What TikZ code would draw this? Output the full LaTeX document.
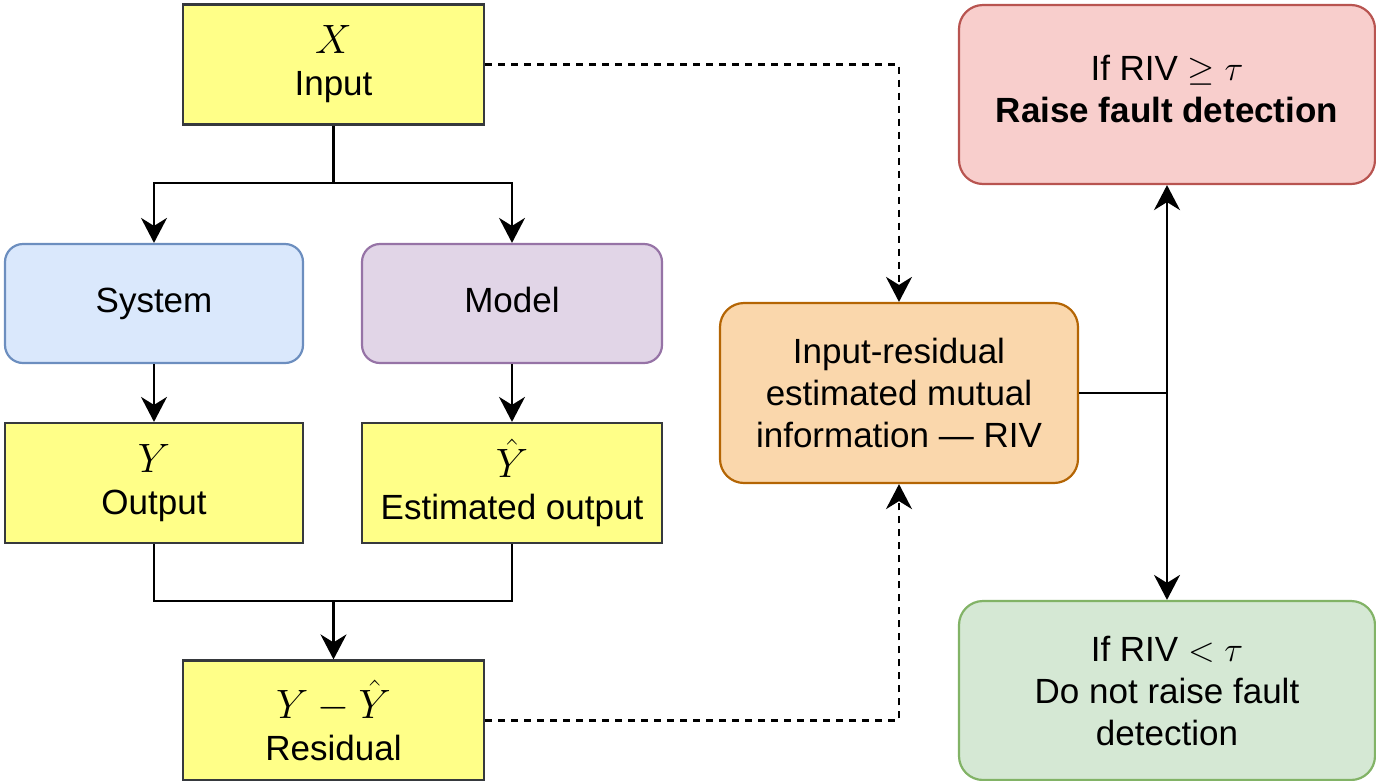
\RequirePackage{fix-cm}
\documentclass[tikz,border=0pt]{standalone}
\usepackage{fontspec}
\setmainfont{Liberation Sans}
\usetikzlibrary{arrows.meta}

\definecolor{yfill}{HTML}{FFFF88}
\definecolor{ydraw}{HTML}{36393D}
\definecolor{bfill}{HTML}{DAE8FC}
\definecolor{bdraw}{HTML}{6C8EBF}
\definecolor{pfill}{HTML}{E1D5E7}
\definecolor{pdraw}{HTML}{9673A6}
\definecolor{ofill}{HTML}{FAD7AC}
\definecolor{odraw}{HTML}{B46504}
\definecolor{rfill}{HTML}{F8CECC}
\definecolor{rdraw}{HTML}{B85450}
\definecolor{gfill}{HTML}{D5E8D4}
\definecolor{gdraw}{HTML}{82B366}

% symbols set a little larger than the labels
\newcommand{\bigmath}[1]{{\fontsize{41}{42}\selectfont$#1$}}

\tikzset{
  box/.style={line width=2.2pt, align=center, inner sep=0pt,
    font=\fontsize{35}{42}\selectfont},
  ybox/.style={box, fill=yfill, draw=ydraw, minimum width=301pt, minimum height=120pt},
  rbox/.style={box, rounded corners=18pt},
  oneline/.style={text height=25pt, text depth=8pt},
  wire/.style={line width=2.4pt, black},
  arrow/.style={wire, -{Stealth[length=25pt,width=26pt,inset=8pt]}},
  dasharrow/.style={arrow, dash pattern=on 7pt off 6pt},
}

\begin{document}
\begin{tikzpicture}[x=1pt,y=-1pt]
\useasboundingbox (0,0) rectangle (1376,780);
\clip (0,0) rectangle (1376,780);

% signal chain
\node[ybox] (inp) at (333.5,64.5) {\bigmath{X}\\Input};
\node[rbox, oneline, fill=bfill, draw=bdraw, minimum width=298pt, minimum height=119pt] (sys) at (154,303.5) {System};
\node[rbox, oneline, fill=pfill, draw=pdraw, minimum width=300pt, minimum height=119pt] (mod) at (512,303.5) {Model};
\node[ybox, minimum width=298pt] (out) at (154,483) {\bigmath{Y}\\Output};
\node[ybox, minimum width=300pt] (est) at (512,483) {\bigmath{\hat{Y}}\\Estimated output};
\node[ybox] (res) at (333.5,720.5) {\bigmath{Y-\hat{Y}}\\Residual};

% decision part
\node[rbox, fill=ofill, draw=odraw, minimum width=358pt, minimum height=180pt, rounded corners=24pt] (riv) at (899,393)
  {Input-residual\\estimated mutual\\information --- RIV};
\node[rbox, fill=rfill, draw=rdraw, minimum width=416pt, minimum height=179pt, rounded corners=24pt] (raise) at (1167,94.5)
  {If RIV $\geq \tau$\\\textbf{Raise fault detection}\rule[-12pt]{0pt}{1pt}};
\node[rbox, fill=gfill, draw=gdraw, minimum width=416pt, minimum height=179pt, rounded corners=24pt] (keep) at (1167,690.5)
  {If RIV $< \tau$\\Do not raise fault\\detection};

% input splits to system and model
\coordinate (j1) at (333.5,183);
\draw[wire] (inp.south) -- (j1);
\draw[arrow] (j1) -| (sys.north);
\draw[arrow] (j1) -| (mod.north);
\draw[arrow] (sys.south) -- (out.north);
\draw[arrow] (mod.south) -- (est.north);

% outputs merge into the residual
\coordinate (j2) at (333.5,601);
\draw[wire] (out.south) |- (j2);
\draw[wire] (est.south) |- (j2);
\draw[arrow] (j2) -- (res.north);

% dashed feeds into the estimator
\draw[dasharrow] (inp.east) -| (riv.north);
\draw[dasharrow] (res.east) -| (riv.south);

% threshold decision
\coordinate (j3) at (1167,393);
\draw[wire] (riv.east) -- (j3);
\draw[arrow] (j3) -- (raise.south);
\draw[arrow] (j3) -- (keep.north);
\end{tikzpicture}
\end{document}
